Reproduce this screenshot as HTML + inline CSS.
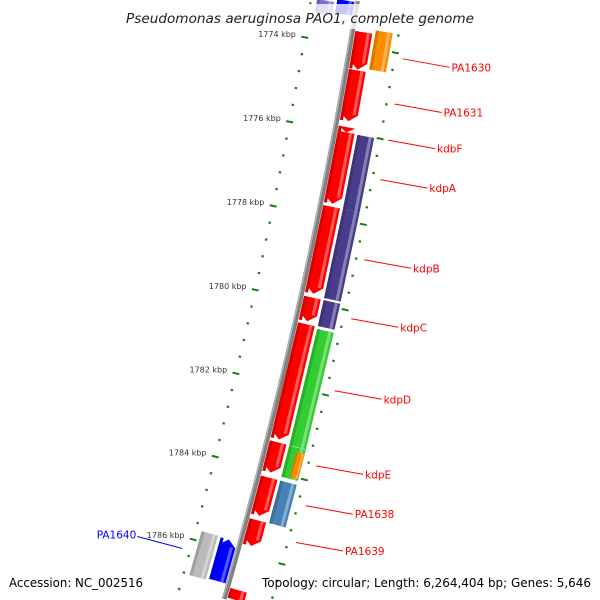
<!DOCTYPE html>
<html><head><meta charset="utf-8"><style>
html,body{margin:0;padding:0;background:#fff;width:600px;height:600px;overflow:hidden}
svg{display:block}
text{font-family:"DejaVu Sans","Liberation Sans",sans-serif}
</style></head><body>
<svg id="map" width="600" height="600" viewBox="0 0 600 600" xmlns="http://www.w3.org/2000/svg">
<g id="ticks"></g>
<g id="backbone"></g>
<g id="genes"></g>
<g id="labels"></g>
<rect x="110" y="4" width="380" height="25" fill="#fff" opacity="0.78"/>
<text x="300" y="23" text-anchor="middle" font-size="13" font-style="italic" fill="#222" textLength="348" lengthAdjust="spacingAndGlyphs">Pseudomonas aeruginosa PAO1, complete genome</text>
<text x="9" y="587" font-size="12" fill="#000" textLength="134" lengthAdjust="spacingAndGlyphs">Accession: NC_002516</text>
<text x="262" y="587" font-size="12" fill="#000" textLength="329" lengthAdjust="spacingAndGlyphs">Topology: circular; Length: 6,264,404 bp; Genes: 5,646</text>
</svg>
<script>
// ---- data (kbp) ----
const geneNames  = ['g-top-a','g-top-b','PA1630','PA1630b','PA1631','kdpF-tip','kdpA','kdpB','kdpC','kdpD','kdpE','PA1638','PA1639','PA1641','o1','kdpA2','kdpB2','kdpC2','kdpD2','kdpE2','kdpE3','PA1638b','PA1640g','PA1640'];
const geneStart  = [1772.0,1772.0,1773.66,1774.55,1775.88,1776.00,1777.75,1779.89,1780.52,1783.32,1784.16,1785.18,1786.85,1773.57,1776.01,1777.75,1779.89,1780.57,1783.33,1783.43,1784.16,1785.76,1785.78,1789.0];
const geneEnd    = [1773.39,1773.32,1774.53,1775.74,1776.00,1777.68,1779.80,1780.45,1783.25,1784.04,1785.07,1785.79,1788.9,1774.48,1777.75,1779.84,1780.50,1783.32,1784.07,1784.03,1785.17,1786.82,1786.78,1789.0];
const geneTrack  = [-2,-1,1,1,1,1,1,1,1,1,1,1,1,2,2,2,2,2,2,3,2,-2,-1,0];
const geneStrand = [0,0,1,1,1,1,1,1,1,1,1,1,1,0,0,0,0,0,0,0,0,0,-1,0];
const geneColor  = ['#7b6fd6','#0000ff','#ff0000','#ff0000','#ff0000','#ff0000','#ff0000','#ff0000','#ff0000','#ff0000','#ff0000','#ff0000','#ff0000','#ff8c00','#483d8b','#483d8b','#483d8b','#32cd32','#32cd32','#ff8c00','#4682b4','#bbbbbb','#0000ff','#fff'];
const labelNames = ['PA1630','PA1631','kdbF','kdpA','kdpB','kdpC','kdpD','kdpE','PA1638','PA1639','PA1640'];
const labelPos   = [1774.11,1775.16,1776.00,1776.92,1778.79,1780.17,1781.86,1783.63,1784.57,1785.44,1786.27];
const labelSide  = [1,1,1,1,1,1,1,1,1,1,-1];
const majorTicks = [1774,1776,1778,1780,1782,1784,1786];
const tickLabels = ['1774 kbp','1776 kbp','1778 kbp','1780 kbp','1782 kbp','1784 kbp','1786 kbp'];

// ---- geometry ----
const CX=-4734, CY=-819, R0=5157;
const A0=9.645, DEG_PER_KBP=0.4808;
const NS='http://www.w3.org/2000/svg';
function ang(k){return (A0+(k-1774)*DEG_PER_KBP)*Math.PI/180;}
function pt(k,v){const a=ang(k),r=R0+v;return [CX+r*Math.cos(a),CY+r*Math.sin(a)];}
function kAtY(y,v){const s=(y-CY)/(R0+v);return 1774+(Math.asin(s)*180/Math.PI-A0)/DEG_PER_KBP;}
function mk(tag,attrs,parent){const e=document.createElementNS(NS,tag);for(const k in attrs)e.setAttribute(k,attrs[k]);parent.appendChild(e);return e;}
const trackV={1:[3,20],2:[23,40],3:[31.5,40],'-1':[-20,-3],'-2':[-40,-23]};
const kPerPx=1/(R0*DEG_PER_KBP*Math.PI/180);

// backbone
const bb=document.getElementById('backbone');
function arcPath(v,k0,k1){let d='';const n=60;for(let i=0;i<=n;i++){const k=k0+(k1-k0)*i/n;const p=pt(k,v);d+=(d?'L':'M')+p[0].toFixed(2)+' '+p[1].toFixed(2);}return d;}
const kTop=kAtY(1,0), kBot=kAtY(599,0);
let b1=mk('path',{d:arcPath(0,kTop,kBot),stroke:'#808080','stroke-width':5,fill:'none'},bb);


let b2=mk('path',{d:arcPath(-1.5,kTop,kBot),stroke:'#b0b0b0','stroke-width':1.5,fill:'none'},bb);



// ticks
const tg=document.getElementById('ticks');
for(let i=0;i<=40;i++){
  const k=1772.8+i*0.4;
  const isMajor=majorTicks.some(m=>Math.abs(m-k)<0.05);
  [-46,46].forEach(v=>{
    const h=isMajor?3.5:1.2;
    const p=pt(k,v-h),q=pt(k,v+h);
    if(Math.min(p[1],q[1])<1.5||Math.max(p[1],q[1])>598.5) return;
    const l=mk('line',{x1:p[0],y1:p[1],x2:q[0],y2:q[1],stroke:'#138013','stroke-width':isMajor?2:2.2},tg);
    
    
  });
}
majorTicks.forEach((m,i)=>{
  const p=pt(m,-55);
  const t=mk('text',{x:p[0].toFixed(1),y:(p[1]+1).toFixed(1),'text-anchor':'end','font-size':8,fill:'#333'},tg);
  t.textContent=tickLabels[i];
  
  
});

// genes
const gg=document.getElementById('genes');
function shade(c,f){const n=parseInt(c.slice(1),16);let r=n>>16,g=(n>>8)&255,b=n&255;
  if(f>0){r+=(255-r)*f;g+=(255-g)*f;b+=(255-b)*f;}else{r*=1+f;g*=1+f;b*=1+f;}
  return 'rgb('+Math.round(r)+','+Math.round(g)+','+Math.round(b)+')';}
function poly(pts){return pts.map(p=>p[0].toFixed(2)+','+p[1].toFixed(2)).join(' ');}
function genePts(s,e,v0,v1,strand){
  const head=7*kPerPx, vm=(v0+v1)/2;
  if(strand===1){const h=Math.max(s,e-head);
    return [pt(s,v0),pt(s,v1),pt(h,v1),pt(e,vm),pt(h,v0)];}
  if(strand===-1){const h=Math.min(e,s+head);
    return [pt(h,v0),pt(s,vm),pt(h,v1),pt(e,v1),pt(e,v0)];}
  return [pt(s,v0),pt(s,v1),pt(e,v1),pt(e,v0)];
}
for(let i=0;i<geneNames.length;i++){
  if(geneTrack[i]===0) continue;
  const [v0,v1]=trackV[geneTrack[i]];
  let s=geneStart[i],e=geneEnd[i],st=geneStrand[i];
  const c=geneColor[i];
  // clip to visible frame (using mid-radius)
  const vmid=(v0+v1)/2;
  const kMin=kAtY(0.5,vmid), kMax=kAtY(600,vmid);
  if(s<kMin){s=kMin; if(st===-1) st=0;}
  if(e>kMax){e=kMax; if(st===1) st=0;}
  if(e<=s) continue;
  const g=mk('g',{},gg);
  
  
  const w=v1-v0;
  mk('polygon',{points:poly(genePts(s,e,v0,v1,st)),fill:c},g);
  mk('polygon',{points:poly(genePts(s,e,v0,v0+w*0.18,0)),fill:shade(c,-0.15)},g);
  const hl=st===1?e-7*kPerPx:e; const hs=st===-1?s+7*kPerPx:s;
  if(hl>hs) mk('polygon',{points:poly(genePts(hs,hl,v0+w*0.68,v0+w*0.86,0)),fill:shade(c,0.35)},g);
}

// labels
const lg=document.getElementById('labels');
labelNames.forEach((n,i)=>{
  const side=labelSide[i];
  const p=pt(labelPos[i],side*54);
  const q=side>0?[p[0]+47,p[1]+8.5]:[p[0]-45,p[1]-12];
  const col=side>0?'#ff0000':'#0000ff';
  const l=mk('line',{x1:p[0],y1:p[1],x2:q[0],y2:q[1],stroke:col,'stroke-width':1},lg);
  
  
  const t=mk('text',{x:(q[0]+(side>0?2:-1)).toFixed(1),y:(q[1]+(side>0?4:2)).toFixed(1),'font-size':10.5,fill:col,'text-anchor':side>0?'start':'end'},lg);
  t.textContent=n;
  
  
});
</script>
</body></html>
